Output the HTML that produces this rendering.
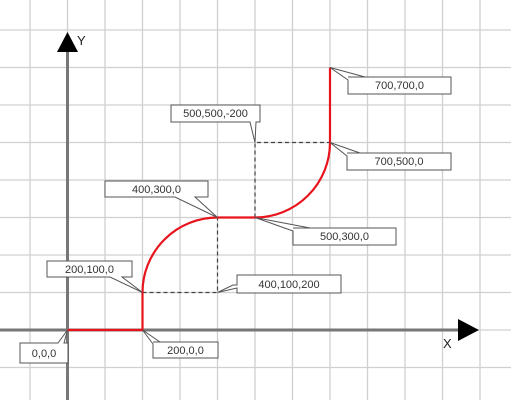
<!DOCTYPE html>
<html><head><style>body{margin:0;background:#fff}svg{display:block}</style></head><body>
<svg width="511" height="400" xmlns="http://www.w3.org/2000/svg" font-family="Liberation Sans, sans-serif" font-size="11">
<g stroke="#d0d0d0" stroke-width="1.3">
<line x1="30" y1="0" x2="30" y2="400"/><line x1="67.5" y1="0" x2="67.5" y2="400"/><line x1="105" y1="0" x2="105" y2="400"/><line x1="142.5" y1="0" x2="142.5" y2="400"/><line x1="180" y1="0" x2="180" y2="400"/><line x1="217.5" y1="0" x2="217.5" y2="400"/><line x1="255" y1="0" x2="255" y2="400"/><line x1="292.5" y1="0" x2="292.5" y2="400"/><line x1="330" y1="0" x2="330" y2="400"/><line x1="367.5" y1="0" x2="367.5" y2="400"/><line x1="405" y1="0" x2="405" y2="400"/><line x1="442.5" y1="0" x2="442.5" y2="400"/><line x1="480" y1="0" x2="480" y2="400"/>
<line y1="30" x1="0" y2="30" x2="511"/><line y1="67.5" x1="0" y2="67.5" x2="511"/><line y1="105" x1="0" y2="105" x2="511"/><line y1="142.5" x1="0" y2="142.5" x2="511"/><line y1="180" x1="0" y2="180" x2="511"/><line y1="217.5" x1="0" y2="217.5" x2="511"/><line y1="255" x1="0" y2="255" x2="511"/><line y1="292.5" x1="0" y2="292.5" x2="511"/><line y1="330" x1="0" y2="330" x2="511"/><line y1="367.5" x1="0" y2="367.5" x2="511"/>
</g>
<g stroke="#777" stroke-width="3"><line x1="67.5" y1="400" x2="67.5" y2="48"/><line x1="0" y1="330" x2="462" y2="330"/></g>
<polygon points="67.5,32 57,52 78,52" fill="#000"/>
<polygon points="479,330 458,319 458,341" fill="#000"/>
<text x="77" y="45" font-size="13" fill="#222">Y</text>
<text x="443" y="348" font-size="13" fill="#222">X</text>
<g stroke="#444" stroke-width="1.2" stroke-dasharray="4,3" fill="none">
<polyline points="142.5,292.5 217.5,292.5 217.5,217.5"/>
<polyline points="255,217.5 255,142.5 330,142.5"/>
</g>
<path d="M67.5,330 H142.5 V292.5 A75,75 0 0 1 217.5,217.5 H255 A75,75 0 0 0 330,142.5 V67.5" fill="none" stroke="#e8141c" stroke-width="2.2"/>
<g fill="#fff" stroke="#555" stroke-width="1">
<polygon points="20,343 58,343 67.5,330 64,343 68,343 68,363 20,363"/>
<polygon points="153,342 218,342 218,358 153,358 153,344 142.5,330 160,342"/>
<polygon points="47,261 132,261 132,277 122,277 142.5,292.5 110,277 47,277"/>
<polygon points="237,275 341,275 341,293 237,293 237,288 217.5,292.5 233,285 237,285"/>
<polygon points="105,181 208,181 208,197 195,197 217.5,217.5 175,197 105,197"/>
<polygon points="171,105 260,105 260,122 256,122 255,142.5 250,122 171,122"/>
<polygon points="348,77 451,77 451,94 348,94 348,80 330,67.5 365,77"/>
<polygon points="347,153 451,153 451,170 347,170 347,156 330,142.5 360,153"/>
<polygon points="293,228 396,228 396,245 293,245 293,231 255,217.5 310,228"/>
</g>
<g fill="#333" text-anchor="middle">
<text x="44" y="357">0,0,0</text>
<text x="185.5" y="354">200,0,0</text>
<text x="89.5" y="273">200,100,0</text>
<text x="289" y="288">400,100,200</text>
<text x="156.5" y="193">400,300,0</text>
<text x="215.5" y="117">500,500,-200</text>
<text x="399.5" y="89">700,700,0</text>
<text x="399" y="165">700,500,0</text>
<text x="344.5" y="240">500,300,0</text>
</g>
</svg>
</body></html>
